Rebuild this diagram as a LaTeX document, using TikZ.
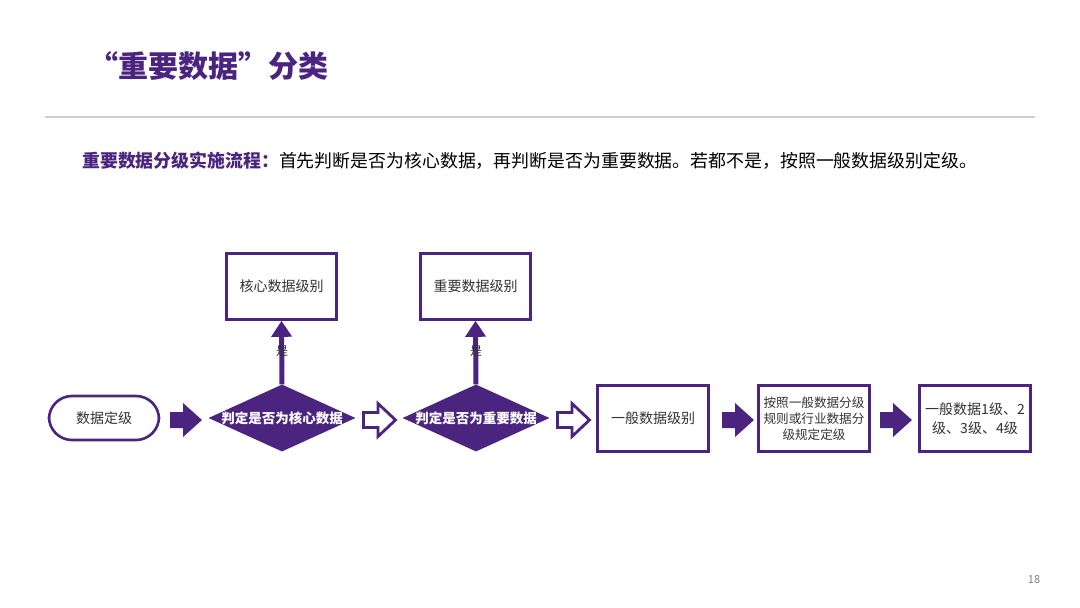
\documentclass[tikz,border=0pt]{standalone}
\usepackage{fontspec}
\setmainfont{Noto Sans CJK SC}
\usetikzlibrary{shapes.geometric,arrows.meta}
\definecolor{pur}{HTML}{4B2480}
\definecolor{txt}{HTML}{333333}
\definecolor{rule}{HTML}{CFCFCF}
\tikzset{
  box/.style={draw=pur,line width=2.6pt,fill=white,minimum width=109pt,minimum height=65pt,inner sep=0pt,font=\fontsize{14}{18}\selectfont,text=txt,align=center},
  pill/.style={box,rounded corners=23pt,minimum width=110pt,minimum height=44pt},
  dia/.style={diamond,fill=pur,minimum width=147pt,minimum height=67pt,inner sep=0pt},
  diatext/.style={font=\bfseries\fontsize{13.5}{16}\selectfont,text=white},
  farrow/.pic={\path[fill=pur] (0,-8) -- (13,-8) -- (13,-17) -- (32,0) -- (13,17) -- (13,8) -- (0,8) -- cycle;},
  oarrow/.pic={\path[draw=pur,fill=white,line width=2.8pt,line join=miter] (1.5,-7.5) -- (16,-7.5) -- (16,-16.5) -- (33.5,0) -- (16,16.5) -- (16,7.5) -- (1.5,7.5) -- cycle;},
  upline/.style={draw=pur,line width=5pt,-{Triangle[width=20pt,length=16pt]}},
  yeslab/.style={font=\fontsize{12}{14}\selectfont,text=txt}
}
\begin{document}
\begin{tikzpicture}[x=1pt,y=-1pt]
\useasboundingbox (0,0) rectangle (1080,608);
% title
\node[anchor=west,text=pur,font=\bfseries\fontsize{30}{34}\selectfont,inner sep=0pt] (title) at (88,66) {“重要数据”分类};
\draw[rule,line width=1.6pt] (45,117) coordinate (r1) -- (1035,117) coordinate (r2);
\node[anchor=west,inner sep=0pt,font=\fontsize{17.9}{20}\selectfont,text=black] (sub) at (82,161) {\textcolor{pur}{\bfseries 重要数据分级实施流程：}首先判断是否为核心数据，再判断是否为重要数据。若都不是，按照一般数据级别定级。};
% flow
\node[pill] (start) at (104,418) {数据定级};
\pic (a1) at (170,420) {farrow};
\node[dia] (d1) at (282,418) {};
\node[diatext] (d1t) at (d1.center) {判定是否为核心数据};
\pic (a2) at (362,420) {oarrow};
\node[dia] (d2) at (476,418) {};
\node[diatext] (d2t) at (d2.center) {判定是否为重要数据};
\pic (a3) at (556,420) {oarrow};
\node[box,minimum width=111pt,minimum height=66pt] (g1) at (653,418.5) {一般数据级别};
\pic (a4) at (722,420) {farrow};
\node[box,minimum width=111pt,minimum height=66pt,font=\fontsize{12.6}{16}\selectfont] (g2) at (814,418.5) {按照一般数据分级\\规则或行业数据分\\级规定定级};
\pic (a5) at (880,420) {farrow};
\node[box,minimum width=111pt,minimum height=66pt,font=\fontsize{14}{19}\selectfont] (g3) at (975,418.5) {一般数据1级、2\\级、3级、4级};
% upper boxes
\node[box,minimum width=110pt,minimum height=66pt] (c1) at (281.5,286.5) {核心数据级别};
\node[box,minimum width=110pt,minimum height=66pt] (c2) at (475.5,286.5) {重要数据级别};
\draw[upline] (d1.north) -- (c1.south);
\draw[upline] (d2.north) -- (c2.south);
\node[yeslab] (y1) at (282,351) {是};
\node[yeslab] (y2) at (476,351) {是};
% page number
\node[font=\fontsize{11}{13}\selectfont,text=gray] (pg) at (1034,580) {18};
\end{tikzpicture}
\end{document}
